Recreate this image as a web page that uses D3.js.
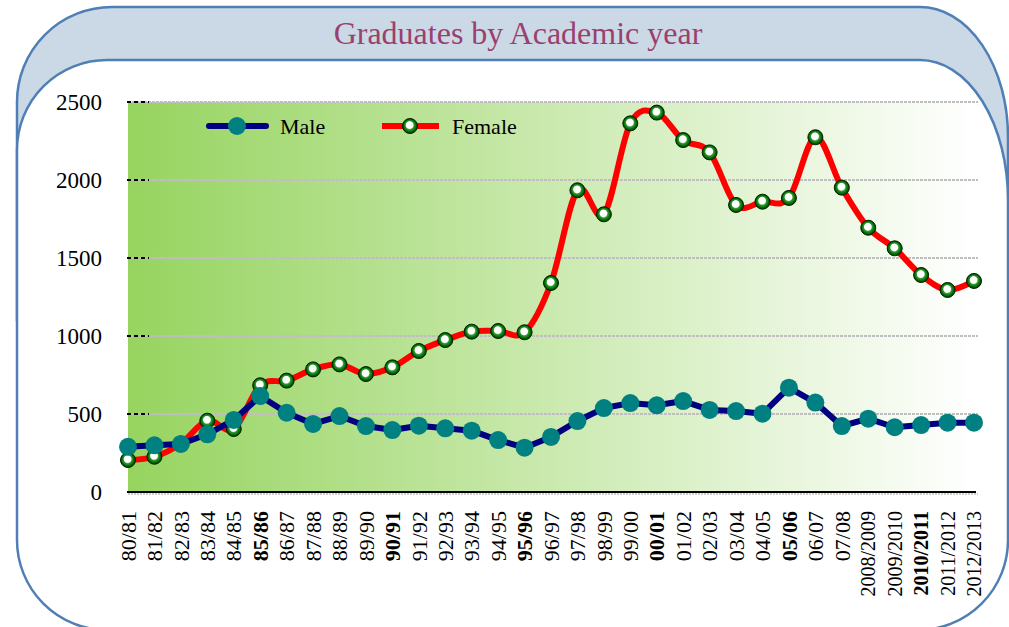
<!DOCTYPE html>
<html>
<head>
<meta charset="utf-8">
<script src="https://cdn.jsdelivr.net/npm/d3@7"></script>
<style>
  body { margin: 0; background: #fff; }
  text { font-family: "Liberation Serif", "Times New Roman", serif; }
</style>
</head>
<body>
<script>
const years = ['80/81', '81/82', '82/83', '83/84', '84/85', '85/86', '86/87', '87/88', '88/89', '89/90',
    '90/91', '91/92', '92/93', '93/94', '94/95', '95/96', '96/97', '97/98', '98/99', '99/00',
    '00/01', '01/02', '02/03', '03/04', '04/05', '05/06', '06/07', '07/08',
    '2008/2009', '2009/2010', '2010/2011', '2011/2012', '2012/2013'];
const boldYears = ['85/86', '90/91', '95/96', '00/01', '05/06', '2010/2011'];

const male = [290, 299, 308, 370, 462, 615, 508, 436, 487, 423,
    397, 425, 408, 393, 333, 284, 353, 455, 538, 570,
    556, 583, 526, 519, 502, 669, 573, 423,
    470, 415, 429, 444, 444];
const female = [205, 226, 310, 457, 404, 684, 714, 786, 818, 756,
    799, 904, 974, 1028, 1032, 1024, 1340, 1934, 1780, 2363,
    2432, 2256, 2177, 1840, 1861, 1885, 2274, 1951,
    1694, 1562, 1391, 1295, 1353];
const yTicks = [0, 500, 1000, 1500, 2000, 2500];

const width = 1009;
const height = 627;
const plot = { left: 128, right: 974, top: 102, bottom: 492 };

const svg = d3.select('body').append('svg')
    .attr('width', width)
    .attr('height', height);

const defs = svg.append('defs');

const bg = defs.append('linearGradient').attr('id', 'bg')
    .attr('x1', '0').attr('x2', '1').attr('y1', '0').attr('y2', '0');
bg.append('stop').attr('offset', '0').attr('stop-color', 'rgb(150,212,95)');
bg.append('stop').attr('offset', '1').attr('stop-color', '#ffffff');

const ball = defs.append('radialGradient').attr('id', 'ball')
    .attr('cx', '0.5').attr('cy', '0.5').attr('r', '0.5')
    .attr('fx', '0.45').attr('fy', '0.38');
ball.append('stop').attr('offset', '0').attr('stop-color', '#ffffff');
ball.append('stop').attr('offset', '0.45').attr('stop-color', '#ffffff');
ball.append('stop').attr('offset', '0.58').attr('stop-color', '#2e9a2e');
ball.append('stop').attr('offset', '0.85').attr('stop-color', '#006400');
ball.append('stop').attr('offset', '1').attr('stop-color', '#003a00');

// frame: header band + white rounded panel
svg.append('path')
    .attr('d', 'M17,320 V102 A95,95 0 0 1 112,7 H920 A88,130 0 0 1 1008,137 V320 Z')
    .attr('fill', '#cbd9e6')
    .attr('stroke', '#4f7fb5')
    .attr('stroke-width', 2.5);
svg.append('path')
    .attr('d', 'M17,540 V150 A90,90 0 0 1 107,60 H920 A88,140 0 0 1 1008,200 V540 A90,90 0 0 1 918,630 H107 A90,90 0 0 1 17,540 Z')
    .attr('fill', '#ffffff')
    .attr('stroke', '#4f7fb5')
    .attr('stroke-width', 2.5);

svg.append('text')
    .attr('x', 518)
    .attr('y', 44)
    .attr('text-anchor', 'middle')
    .attr('font-size', 32)
    .attr('fill', '#9b3f6e')
    .text('Graduates by Academic year');

const x = d3.scalePoint().domain(years).range([plot.left, plot.right]);
const y = d3.scaleLinear().domain([0, 2500]).range([plot.bottom, plot.top]);

const group = svg.append('g');

group.append('rect')
    .attr('x', plot.left)
    .attr('y', y(2500))
    .attr('width', plot.right - plot.left + 1)
    .attr('height', y(0) - y(2500))
    .attr('fill', 'url(#bg)');

// gridlines
group.selectAll('.grid').data(yTicks.slice(1)).join('line')
    .attr('class', 'grid')
    .attr('x1', plot.left).attr('x2', 978)
    .attr('y1', (d) => y(d)).attr('y2', (d) => y(d))
    .attr('stroke', '#bfbfbf')
    .attr('stroke-width', 2)
    .attr('stroke-dasharray', '3,1');

group.selectAll('.tick').data(yTicks).join('line')
    .attr('class', 'tick')
    .attr('x1', 127).attr('x2', 149)
    .attr('y1', (d) => y(d)).attr('y2', (d) => y(d))
    .attr('stroke', '#000')
    .attr('stroke-width', 2)
    .attr('stroke-dasharray', '4,3');

group.selectAll('.ylab').data(yTicks).join('text')
    .attr('class', 'ylab')
    .attr('x', 102)
    .attr('y', (d) => y(d))
    .attr('dy', '0.35em')
    .attr('text-anchor', 'end')
    .attr('font-size', 23)
    .text((d) => d);

// x axis
group.append('line')
    .attr('x1', plot.left).attr('x2', 976)
    .attr('y1', y(0)).attr('y2', y(0))
    .attr('stroke', '#000')
    .attr('stroke-width', 2);
group.append('line')
    .attr('x1', plot.left).attr('x2', 978)
    .attr('y1', y(0) + 2).attr('y2', y(0) + 2)
    .attr('stroke', '#bfbfbf')
    .attr('stroke-width', 1.5)
    .attr('stroke-dasharray', '2,1');

group.selectAll('.xlab').data(years).join('text')
    .attr('class', 'xlab')
    .attr('transform', (d) => `translate(${x(d)}, 511) rotate(-90)`)
    .attr('dy', '0.35em')
    .attr('text-anchor', 'end')
    .attr('font-size', (d) => d.length > 5 ? 20 : 22)
    .attr('font-weight', (d) => boldYears.includes(d) ? 'bold' : 'normal')
    .text((d) => d);

// female series (smoothed)
const femaleLine = d3.line()
    .x((d, i) => x(years[i]))
    .y((d) => y(d))
    .curve(d3.curveCardinal.tension(0));

group.append('path')
    .datum(female)
    .attr('d', femaleLine)
    .attr('fill', 'none')
    .attr('stroke', '#ff0000')
    .attr('stroke-width', 6)
    .attr('stroke-linejoin', 'round');

group.selectAll('.fdot').data(female).join('circle')
    .attr('class', 'fdot')
    .attr('cx', (d, i) => x(years[i]))
    .attr('cy', (d) => y(d))
    .attr('r', 7.5)
    .attr('fill', 'url(#ball)')
    .attr('stroke', '#002200')
    .attr('stroke-width', 1);

// male series
const maleLine = d3.line()
    .x((d, i) => x(years[i]))
    .y((d) => y(d));

group.append('path')
    .datum(male)
    .attr('d', maleLine)
    .attr('fill', 'none')
    .attr('stroke', '#000080')
    .attr('stroke-width', 6)
    .attr('stroke-linejoin', 'round');

group.selectAll('.mdot').data(male).join('circle')
    .attr('class', 'mdot')
    .attr('cx', (d, i) => x(years[i]))
    .attr('cy', (d) => y(d))
    .attr('r', 9)
    .attr('fill', '#008080');

// legend
const legend = svg.append('g');
legend.append('line')
    .attr('x1', 209).attr('x2', 266).attr('y1', 126).attr('y2', 126)
    .attr('stroke', '#000080').attr('stroke-width', 6).attr('stroke-linecap', 'round');
legend.append('circle')
    .attr('cx', 237).attr('cy', 126).attr('r', 9).attr('fill', '#008080');
legend.append('text')
    .attr('x', 280).attr('y', 134).attr('font-size', 22).text('Male');

legend.append('line')
    .attr('x1', 382).attr('x2', 439).attr('y1', 126).attr('y2', 126)
    .attr('stroke', '#ff0000').attr('stroke-width', 6);
legend.append('circle')
    .attr('cx', 410).attr('cy', 126).attr('r', 7.5)
    .attr('fill', 'url(#ball)').attr('stroke', '#002200').attr('stroke-width', 1);
legend.append('text')
    .attr('x', 452).attr('y', 134).attr('font-size', 22).text('Female');
</script>
</body>
</html>
